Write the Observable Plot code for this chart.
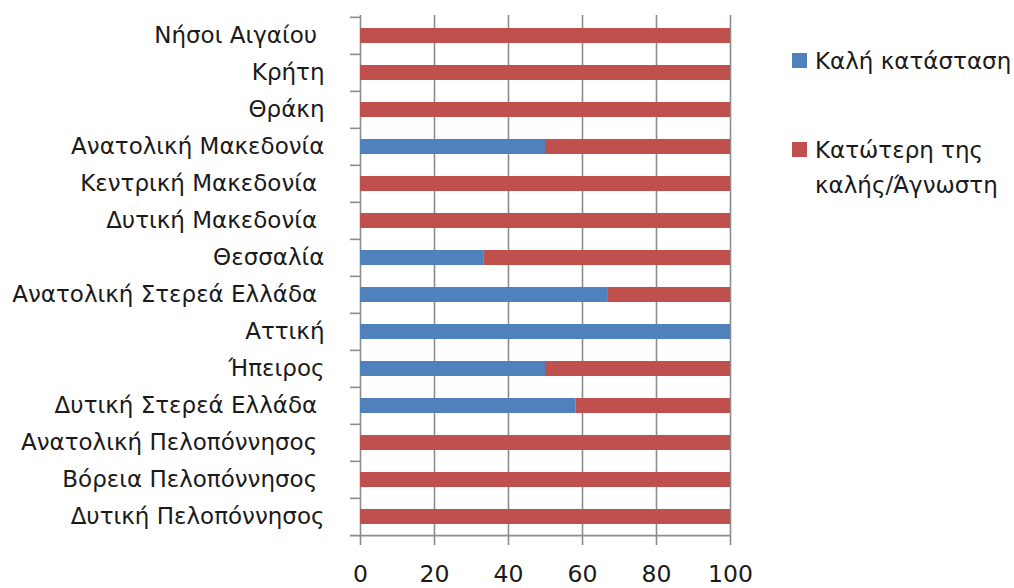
<!DOCTYPE html>
<html>
<head>
<meta charset="utf-8">
<script src="https://cdn.jsdelivr.net/npm/d3@7"></script>
<script src="https://cdn.jsdelivr.net/npm/@observablehq/plot@0.6"></script>
<style>
  html, body { margin: 0; padding: 0; background: #fff; }
  #wrap { position: relative; width: 1014px; height: 588px; overflow: hidden; font-family: "DejaVu Sans", sans-serif; }
  #legend { position: absolute; left: 792px; top: 0; font-size: 23px; color: #1a1a1a; }
  .item { position: absolute; left: 0; white-space: nowrap; line-height: 35px; }
  .sw { position: absolute; left: 0; width: 15px; height: 15px; }
  .lab { position: absolute; left: 23px; }
</style>
</head>
<body>
<div id="wrap"></div>
<script>
// Regions, top to bottom
const regions = [
  "Νήσοι Αιγαίου\u00a0",
  "Κρήτη",
  "Θράκη",
  "Ανατολική Μακεδονία",
  "Κεντρική Μακεδονία\u00a0",
  "Δυτική Μακεδονία\u00a0",
  "Θεσσαλία",
  "Ανατολική Στερεά Ελλάδα\u00a0",
  "Αττική",
  "Ήπειρος",
  "Δυτική Στερεά Ελλάδα\u00a0",
  "Ανατολική Πελοπόννησος\u00a0",
  "Βόρεια Πελοπόννησος\u00a0",
  "Δυτική Πελοπόννησος"
];
// Share (%) in good condition
const good  = [0, 0, 0, 50, 0, 0, 33.3, 67, 100, 50, 58.3, 0, 0, 0];
// Share (%) below good / unknown
const other = [100, 100, 100, 50, 100, 100, 66.7, 33, 0, 50, 41.7, 100, 100, 100];
const seriesNames = ["Καλή κατάσταση", "Κατώτερη της καλής/Άγνωστη"];
const seriesColors = ["#4F81BD", "#C0504D"];
const xTicks = [0, 20, 40, 60, 80, 100];

const rows = [
  ...regions.map((r, i) => ({region: r, series: seriesNames[0], value: good[i]})),
  ...regions.map((r, i) => ({region: r, series: seriesNames[1], value: other[i]}))
];

const W = 1014, H = 588, mt = 15, mb = 51;
const step = (H - mt - mb) / regions.length;
const gridColor = "#8c8c8c";

const chart = Plot.plot({
  width: W,
  height: H,
  marginLeft: 360,
  marginRight: 284,
  marginTop: mt,
  marginBottom: mb,
  style: {fontFamily: "'DejaVu Sans', sans-serif", color: "#1a1a1a", background: "#fff"},
  x: {domain: [0, 100], ticks: xTicks, label: null},
  y: {domain: regions, paddingInner: 0.59, paddingOuter: 0.295, label: null},
  color: {domain: seriesNames, range: seriesColors},
  marks: [
    Plot.gridX(xTicks, {stroke: gridColor, strokeOpacity: 1, strokeWidth: 1.6}),
    Plot.barX(rows, Plot.stackX({y: "region", x: "value", fill: "series", order: null})),
    // tick marks on the category axis, at band boundaries
    Plot.ruleY(regions, {y: d => d, x1: -2.7, x2: 0, dy: -step / 2, stroke: gridColor, strokeWidth: 1.6}),
    Plot.ruleY(regions.slice(-1), {y: d => d, x1: -2.7, x2: 100, dy: step / 2, stroke: gridColor, strokeWidth: 1.6}),
    Plot.axisX(xTicks, {tickSize: 8, stroke: gridColor, strokeWidth: 1.6, tickPadding: 20, fontSize: 23.5, fill: "#1a1a1a", label: null}),
    Plot.axisY({tickSize: 0, tickPadding: 36, fontSize: 23, fill: "#1a1a1a", label: null})
  ]
});

const wrap = document.getElementById("wrap");
wrap.appendChild(chart);

// legend on the right
const legend = document.createElement("div");
legend.id = "legend";
const items = [
  {color: seriesColors[0], top: 44, swTop: 53, lines: [seriesNames[0]]},
  {color: seriesColors[1], top: 133, swTop: 142, lines: ["Κατώτερη της", "καλής/Άγνωστη"]}
];
items.forEach(it => {
  const sw = document.createElement("div");
  sw.className = "sw";
  sw.style.background = it.color;
  sw.style.top = it.swTop + "px";
  legend.appendChild(sw);
  const lab = document.createElement("div");
  lab.className = "item lab";
  lab.style.top = it.top + "px";
  lab.innerHTML = it.lines.join("<br>");
  legend.appendChild(lab);
});
wrap.appendChild(legend);
</script>
</body>
</html>
